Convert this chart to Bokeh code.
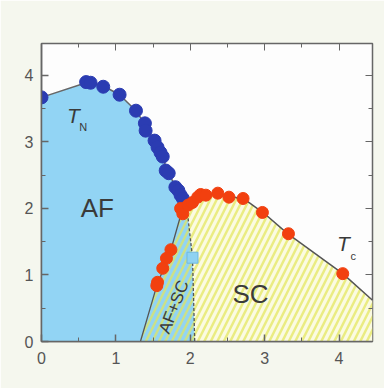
from bokeh.plotting import figure
from bokeh.models import Range1d, LinearAxis, SingleIntervalTicker, CustomLabelingPolicy
from bokeh.core.properties import value
from bokeh.embed import file_html
from bokeh.resources import INLINE

# measured data
tn_x = [0.0, 0.60, 0.66, 0.83, 1.05, 1.27, 1.39, 1.40, 1.52, 1.56, 1.60, 1.63, 1.67, 1.71, 1.80, 1.84, 1.87, 1.90]
tn_y = [3.67, 3.90, 3.89, 3.83, 3.71, 3.47, 3.28, 3.17, 3.02, 2.92, 2.84, 2.78, 2.57, 2.53, 2.32, 2.27, 2.20, 2.15]

tc_x = [1.87, 1.90, 1.97, 2.03, 2.10, 2.14, 2.21, 2.37, 2.52, 2.71, 2.97, 3.32, 4.05]
tc_y = [2.00, 1.92, 2.05, 2.09, 2.17, 2.21, 2.20, 2.23, 2.17, 2.15, 1.94, 1.62, 1.02]

low_x = [1.74, 1.68, 1.63, 1.56, 1.55]
low_y = [1.38, 1.25, 1.10, 0.89, 0.84]

sq_x = [2.03]
sq_y = [1.26]

# phase boundaries
tn_line_x = [0.0, 0.63, 0.85, 1.05, 1.27, 1.40, 1.55, 1.65, 1.72, 1.82, 1.88, 1.89]
tn_line_y = [3.67, 3.90, 3.83, 3.71, 3.47, 3.25, 2.95, 2.70, 2.50, 2.30, 2.15, 1.97]
tc_line_x = [1.89, 2.0, 2.2, 2.4, 2.6, 2.75, 3.0, 3.3, 4.05, 4.45]
tc_line_y = [1.97, 2.10, 2.20, 2.22, 2.17, 2.12, 1.92, 1.63, 1.02, 0.62]
left_b_x = [1.89, 1.74, 1.55, 1.33]
left_b_y = [1.97, 1.38, 0.84, 0.0]
right_b_x = [1.89, 1.97, 2.03, 2.06]
right_b_y = [1.97, 1.86, 1.26, 0.0]

XMAX, YMAX = 4.45, 4.48

p = figure(width=384, height=388, x_range=Range1d(0, XMAX), y_range=Range1d(0, YMAX),
           output_backend="svg", toolbar_location=None,
           min_border_left=41, min_border_right=12, min_border_top=43, min_border_bottom=47)
p.background_fill_color = "#fdfdfd"
p.border_fill_color = "#f5f7ee"
p.outline_line_color = "#666666"
p.outline_line_width = 1.5
p.xgrid.visible = False
p.ygrid.visible = False

# SC pale fill
sc_x = tc_line_x + [XMAX, right_b_x[-1]] + right_b_x[::-1]
sc_y = tc_line_y + [0.0, 0.0] + right_b_y[::-1]
p.patch(sc_x, sc_y, fill_color="#fbfbe2", line_color=None)

# AF fill (includes AF+SC)
af_x = [0.0] + tn_line_x + right_b_x[1:] + [0.0]
af_y = [0.0] + tn_line_y + right_b_y[1:] + [0.0]
p.patch(af_x, af_y, fill_color="#92d4f4", line_color=None)

# hatch over SC and AF+SC
h_x = tc_line_x + [XMAX] + left_b_x[::-1]
h_y = tc_line_y + [0.0] + left_b_y[::-1]
p.patch(h_x, h_y, fill_alpha=0, line_color=None, hatch_pattern="/",
        hatch_color="#e2e55a", hatch_alpha=0.7, hatch_scale=13, hatch_weight=2.5)

# boundary lines
p.line(tn_line_x, tn_line_y, line_color="#666666", line_width=1.5)
p.line(tc_line_x, tc_line_y, line_color="#555555", line_width=1.5)
p.line(left_b_x, left_b_y, line_color="#555555", line_width=1.3)
p.line(right_b_x, right_b_y, line_color="#555555", line_width=1.3, line_dash="3 2")

# points
p.scatter(tn_x, tn_y, size=13, fill_color="#2b3cb2", line_color="#2b3cb2")
p.scatter(tc_x, tc_y, size=12, fill_color="#f2400f", line_color="#f2400f")
p.scatter(low_x, low_y, size=12, fill_color="#f2400f", line_color="#f2400f")
p.scatter(sq_x, sq_y, marker="square", size=11, fill_color="#8fd2f2", line_color="#6fb8e0")

font = value("Liberation Sans")
txt_col = "#3a3a3a"
p.text([0.43], [3.40], text=["T"], text_font=font, text_font_style="italic", text_font_size="21px",
       text_align="center", text_baseline="middle", text_color=txt_col)
p.text([0.56], [3.22], text=["N"], text_font=font, text_font_size="11px",
       text_align="center", text_baseline="middle", text_color=txt_col)
p.text([4.06], [1.47], text=["T"], text_font=font, text_font_style="italic", text_font_size="21px",
       text_align="center", text_baseline="middle", text_color=txt_col)
p.text([4.19], [1.28], text=["c"], text_font=font, text_font_size="11px",
       text_align="center", text_baseline="middle", text_color=txt_col)
p.text([0.75], [2.0], text=["AF"], text_font=font, text_font_size="26px",
       text_align="center", text_baseline="middle", text_color=txt_col)
p.text([2.81], [0.72], text=["SC"], text_font=font, text_font_size="26px",
       text_align="center", text_baseline="middle", text_color=txt_col)
p.text([1.78], [0.52], text=["AF+SC"], text_font=font, text_font_size="17px", angle=1.2,
       text_align="center", text_baseline="middle", text_color=txt_col)

ticker = SingleIntervalTicker(interval=1, num_minor_ticks=2)
for ax in (p.xaxis[0], p.yaxis[0]):
    ax.ticker = ticker
    ax.axis_line_color = "#666666"
    ax.axis_line_width = 1.5
    ax.major_tick_in = 7
    ax.major_tick_out = 0
    ax.minor_tick_in = 4
    ax.minor_tick_out = 0
    ax.major_tick_line_color = "#666666"
    ax.minor_tick_line_color = "#666666"
    ax.major_tick_line_width = 1.5
    ax.major_label_text_font = "Liberation Sans"
    ax.major_label_text_font_size = "16px"
    ax.major_label_text_color = "#555555"
p.yaxis[0].major_label_standoff = 8
p.xaxis[0].major_label_standoff = 10

no_labels = CustomLabelingPolicy(code="for (const i of [...indices]) { indices.unset(i) }\nreturn indices")
for loc in ("above", "right"):
    ax = LinearAxis(ticker=SingleIntervalTicker(interval=1, num_minor_ticks=2),
                    axis_line_color=None, major_tick_in=7, major_tick_out=0,
                    minor_tick_in=4, minor_tick_out=0,
                    major_tick_line_color="#666666", minor_tick_line_color="#666666",
                    major_label_policy=no_labels, major_label_standoff=0)
    p.add_layout(ax, loc)

open("out.html", "w").write(file_html(p, INLINE))
